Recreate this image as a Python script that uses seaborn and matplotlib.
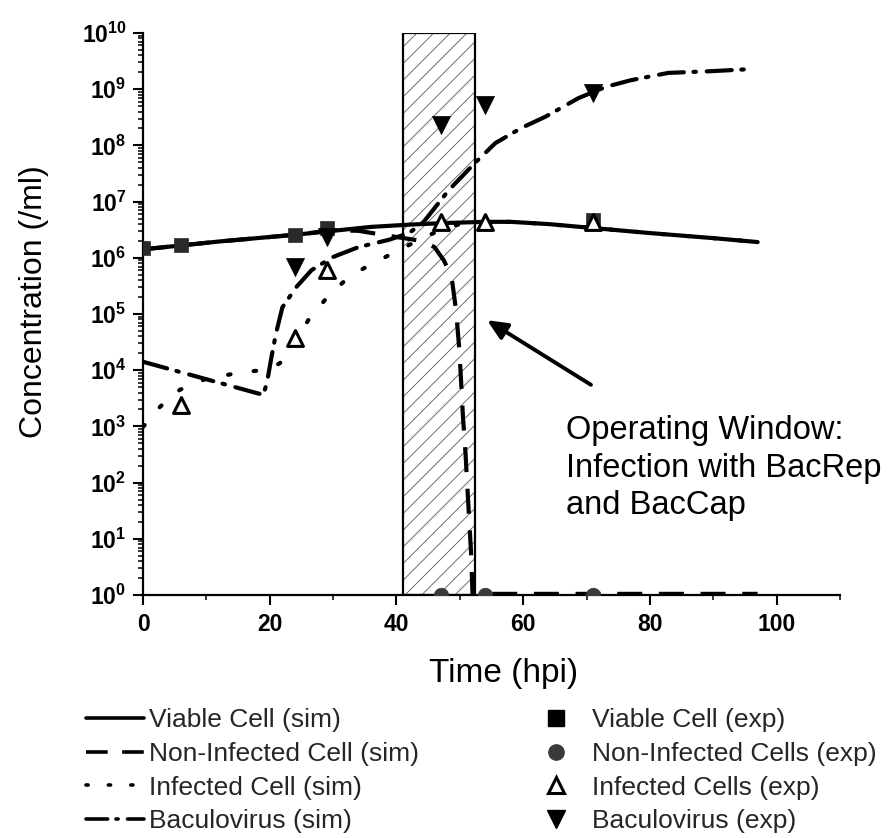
import numpy as np
import pandas as pd
import seaborn as sns
import matplotlib
matplotlib.use("Agg")
import matplotlib.pyplot as plt
from matplotlib.lines import Line2D
from matplotlib.ticker import FixedLocator, FuncFormatter, MultipleLocator, LogLocator, NullFormatter

# ---- simulated profiles (hpi, log10 concentration per ml) ----
viable_sim_t = [0, 6, 12, 18, 24, 30, 36, 42, 48, 54, 58, 64, 71, 80, 90, 97]
viable_sim_log = [6.15, 6.22, 6.29, 6.35, 6.41, 6.48, 6.55, 6.59, 6.62, 6.64,
                  6.64, 6.60, 6.53, 6.44, 6.35, 6.28]

noninf_sim_t = [0, 6, 12, 18, 24, 30, 34, 40, 44, 46, 47.5, 48.7, 49.4, 49.9,
                50.2, 50.5, 50.9, 51.2, 51.5, 51.8, 52.0, 60, 70, 80, 90, 97]
noninf_sim_log = [6.15, 6.22, 6.29, 6.35, 6.41, 6.49, 6.48, 6.37, 6.30, 6.19,
                  5.95, 5.66, 5.07, 4.40, 3.80, 3.16, 2.52, 1.90, 1.30, 0.70,
                  0.02, 0.02, 0.02, 0.02, 0.02, 0.02]

infected_sim_t = [0, 2.7, 5.8, 10, 16, 19, 21, 22.5, 24, 26.3, 29.1, 32.3,
                  35.7, 38.9, 43.6, 47, 50, 54, 58, 64, 71, 80, 90, 97]
infected_sim_log = [2.99, 3.35, 3.65, 3.85, 3.97, 4.00, 4.08, 4.20, 4.50, 4.93,
                    5.30, 5.64, 5.87, 6.05, 6.32, 6.50, 6.60, 6.64, 6.64, 6.60,
                    6.53, 6.44, 6.35, 6.28]

baculo_sim_t = [0, 19.0, 19.6, 20.3, 21.0, 22.0, 24.2, 26.6, 29.9, 34.0, 38.8,
                42.0, 44.3, 48.3, 52.5, 55.6, 59.7, 63.5, 68.7, 73.0, 77.0,
                82.9, 89.6, 96.2]
baculo_sim_log = [4.15, 3.56, 3.80, 4.25, 4.66, 5.12, 5.48, 5.78, 6.01, 6.19,
                  6.32, 6.44, 6.64, 7.21, 7.70, 8.04, 8.31, 8.51, 8.84, 9.04,
                  9.16, 9.29, 9.32, 9.36]

# ---- experimental measurements ----
viable_exp_t = [0, 6, 24, 29, 71]
viable_exp = [1.5e6, 1.7e6, 2.5e6, 3.4e6, 4.7e6]

noninf_exp_t = [47, 54, 71]
noninf_exp = [1.0, 1.0, 1.0]

infected_exp_t = [6, 24, 29, 47, 54, 71]
infected_exp = [2.4e3, 3.7e4, 6.0e5, 4.4e6, 4.4e6, 4.4e6]

baculo_exp_t = [24, 29, 47, 54, 71]
baculo_exp = [6.9e5, 2.3e6, 2.3e8, 5.2e8, 8.5e8]

window_start, window_end = 41.0, 52.4

sim_labels = ["Viable Cell (sim)", "Non-Infected Cell (sim)",
              "Infected Cell (sim)", "Baculovirus (sim)"]
exp_labels = ["Viable Cell (exp)", "Non-Infected Cells (exp)",
              "Infected Cells (exp)", "Baculovirus (exp)"]

sns.set_theme(style="ticks")
plt.rcParams["font.family"] = ["Liberation Sans", "DejaVu Sans"]
plt.rcParams["mathtext.fontset"] = "custom"
plt.rcParams["mathtext.rm"] = "Liberation Sans"
plt.rcParams["mathtext.bf"] = "Liberation Sans:bold"
plt.rcParams["hatch.linewidth"] = 0.6

W, H = 891, 838
fig = plt.figure(figsize=(W / 100, H / 100), dpi=100)
ax = fig.add_axes([143 / W, 1 - 595 / H, (840 - 143) / W, (595 - 33) / H])

LW = 3.0
styles = {
    "solid": dict(linestyle="-"),
    "dash": dict(linestyle=(0, (6.0, 4.0)), dash_capstyle="butt"),
    "dot": dict(linestyle=(0, (0.6, 5.6)), dash_capstyle="round"),
    "dashdot": dict(linestyle=(0, (6.0, 2.3, 0.6, 2.6)), dash_capstyle="round"),
}

# operating window
ax.axvspan(window_start, window_end, facecolor="white", edgecolor="#5a5a5a",
           hatch="//", linewidth=0, zorder=1)
ax.axvspan(window_start, window_end, facecolor="none", edgecolor="black",
           linewidth=1.6, zorder=1.5)

def draw_sim(t, logv, key):
    df = pd.DataFrame({"t": t, "c": np.power(10.0, logv)})
    sns.lineplot(data=df, x="t", y="c", ax=ax, color="black", linewidth=LW,
                 estimator=None, sort=False, zorder=3, **styles[key])

draw_sim(viable_sim_t, viable_sim_log, "solid")
draw_sim(noninf_sim_t, noninf_sim_log, "dash")
draw_sim(infected_sim_t, infected_sim_log, "dot")
draw_sim(baculo_sim_t, baculo_sim_log, "dashdot")

def draw_exp(t, v, marker, size, face, edge, lw):
    df = pd.DataFrame({"t": t, "c": v})
    sns.scatterplot(data=df, x="t", y="c", ax=ax, marker=marker, s=size,
                    color=face, edgecolor=edge, linewidth=lw, zorder=4)

draw_exp(viable_exp_t, viable_exp, "s", 110, "#2a2a2a", "#2a2a2a", 0.5)
draw_exp(noninf_exp_t, noninf_exp, "o", 110, "#3a3a3a", "#3a3a3a", 0.5)
draw_exp(infected_exp_t, infected_exp, "^", 130, "white", "black", 2.2)
draw_exp(baculo_exp_t, baculo_exp, "v", 170, "black", "black", 0.5)

ax.set_yscale("log")
ax.set_xlim(0, 110)
ax.set_ylim(1, 1e10)

ax.xaxis.set_major_locator(FixedLocator([0, 20, 40, 60, 80, 100]))
ax.xaxis.set_minor_locator(MultipleLocator(10))
ax.yaxis.set_major_locator(FixedLocator([10.0 ** k for k in range(11)]))
ax.yaxis.set_minor_locator(LogLocator(base=10, subs=np.arange(2, 10), numticks=30))
ax.yaxis.set_minor_formatter(NullFormatter())
ax.yaxis.set_major_formatter(
    FuncFormatter(lambda v, p: r"$\mathbf{10^{%d}}$" % round(np.log10(v))))

ax.tick_params(axis="both", which="major", direction="out", length=7,
               width=1.5, color="black", labelsize=16.5, labelcolor="black")
ax.tick_params(axis="x", which="major", pad=6)
ax.tick_params(axis="y", which="major", pad=5)
ax.tick_params(axis="both", which="minor", direction="out", length=3.5,
               width=1.1, color="black")
for lab in ax.get_xticklabels():
    lab.set_fontweight("bold")

sns.despine(ax=ax)
for s in ("left", "bottom"):
    ax.spines[s].set_linewidth(1.6)
    ax.spines[s].set_color("black")

ax.set_xlabel("Time (hpi)", fontsize=24, color="black", va="center")
ax.set_ylabel("Concentration (/ml)", fontsize=23, color="black", va="center")
ax.xaxis.set_label_coords(0.517, (595 - 673) / 562)
ax.yaxis.set_label_coords((34 - 143) / 697, (595 - 302) / 562)

ax.annotate("", xy=(54.3, 10 ** 4.89), xytext=(70.7, 10 ** 3.74),
            arrowprops=dict(arrowstyle="-|>,head_length=1.0,head_width=0.45",
                            color="black", lw=2.8, shrinkA=0, shrinkB=0))
ax.text(66.8, 10 ** 3.2, "Operating Window:\nInfection with BacRep\nand BacCap",
        fontsize=23.5, va="top", ha="left", linespacing=1.27, clip_on=False,
        color="black")

# legends
sim_handles = [Line2D([], [], color="black", linewidth=2.6, **styles[k])
               for k in ("solid", "dash", "dot", "dashdot")]
exp_handles = [
    Line2D([], [], linestyle="none", marker="s", markersize=11,
           color="black"),
    Line2D([], [], linestyle="none", marker="o", markersize=11,
           color="#3a3a3a"),
    Line2D([], [], linestyle="none", marker="^", markersize=11,
           markerfacecolor="white", markeredgecolor="black", markeredgewidth=2.2),
    Line2D([], [], linestyle="none", marker="v", markersize=13,
           color="black"),
]
leg_kw = dict(frameon=False, fontsize=19, borderpad=0, borderaxespad=0,
              labelspacing=0.37, loc="upper left")
fig.legend(sim_handles, sim_labels, bbox_to_anchor=(86 / W, 1 - 708 / H),
           handlelength=2.2, handletextpad=0.2, **leg_kw)
fig.legend(exp_handles, exp_labels, bbox_to_anchor=(541 / W, 1 - 708 / H),
           handlelength=1.14, handletextpad=0.8, **leg_kw)

fig.savefig("out.png", dpi=100)
